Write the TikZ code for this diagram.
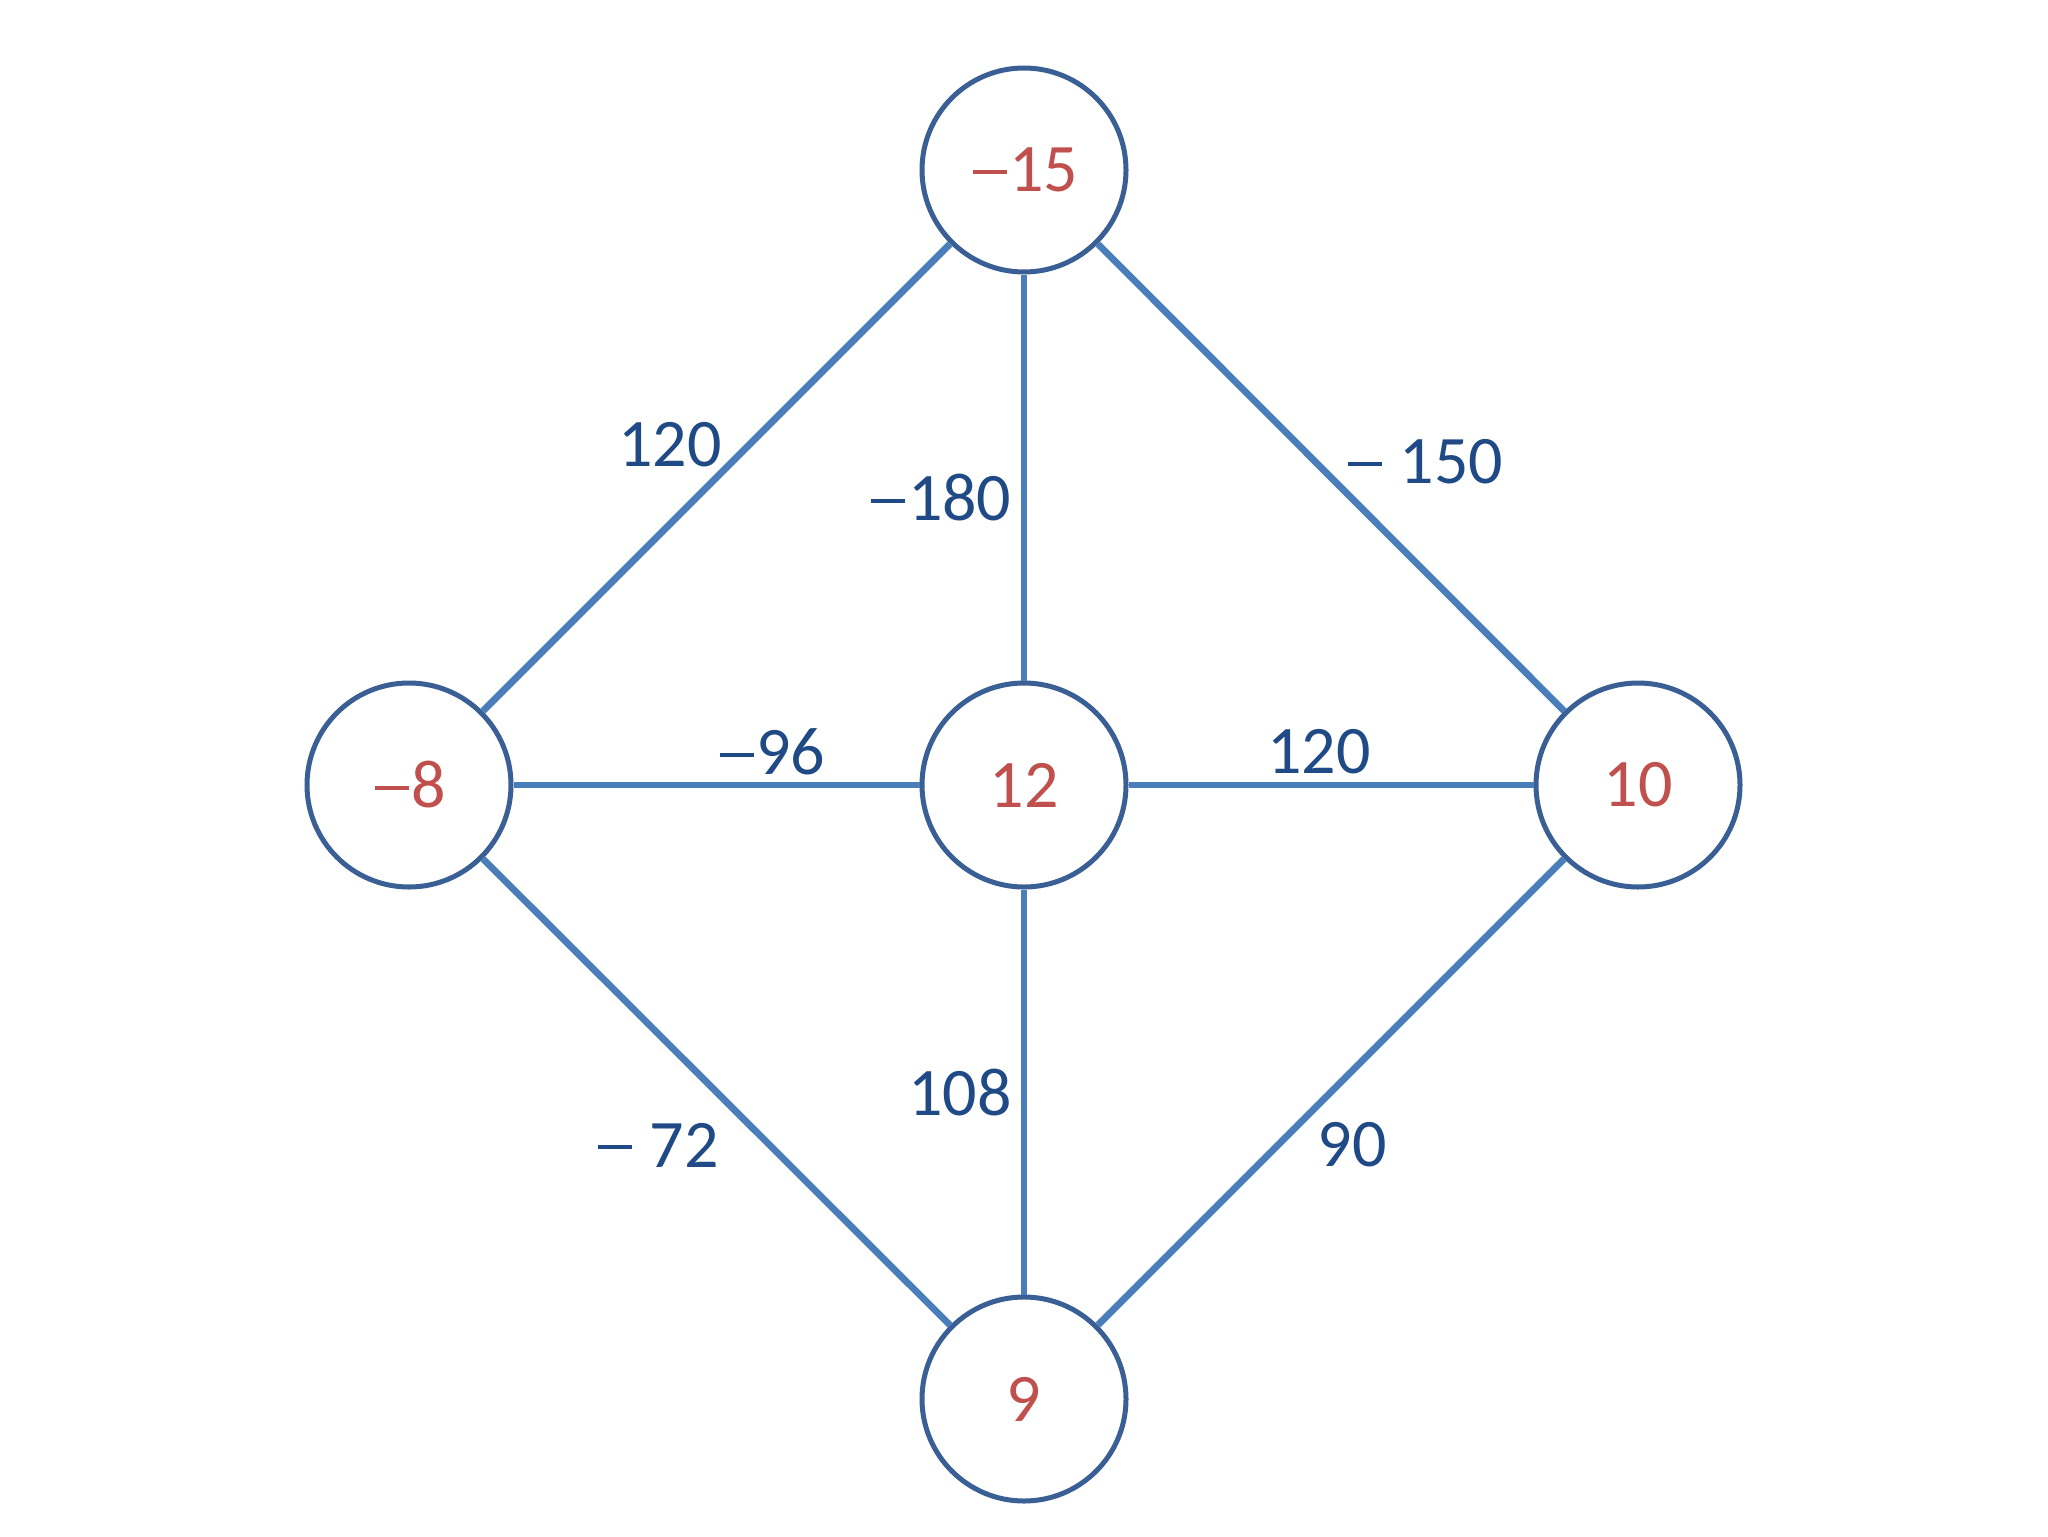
\documentclass[tikz,border=0pt]{standalone}
\usepackage{fontspec}
\setmainfont{Carlito}
\definecolor{ringc}{HTML}{3A5F94}
\definecolor{edgec}{HTML}{4A7EBB}
\definecolor{labc}{HTML}{1F4A85}
\definecolor{valc}{HTML}{C0504D}
\newcommand{\mn}{\kern0.04em\rule[0.265em]{0.5em}{0.06em}\kern0.04em}
\begin{document}
\begin{tikzpicture}[x=0.5pt,y=-0.5pt,
  vert/.style={circle,draw=ringc,line width=2.5pt,fill=white,minimum size=102pt,inner sep=0pt,
    text=valc,font=\fontsize{34}{40}\selectfont},
  conn/.style={draw=edgec,line width=3.4pt},
  wlab/.style={text=labc,font=\fontsize{34}{40}\selectfont,inner sep=0pt}]
\useasboundingbox[fill=white] (0,0) rectangle (2048,1536);
\node[vert] (t) at (1024,170) {\mn15};
\node[vert] (l) at (409,785) {\mn8};
\node[vert] (c) at (1024,785) {12};
\node[vert] (r) at (1638,785) {10};
\node[vert] (b) at (1024,1399) {9};
\draw[conn] (t) -- (l);
\draw[conn] (t) -- (c);
\draw[conn] (t) -- (r);
\draw[conn] (l) -- (c);
\draw[conn] (c) -- (r);
\draw[conn] (l) -- (b);
\draw[conn] (c) -- (b);
\draw[conn] (r) -- (b);
\node[wlab] (w1) at (670,445) {120};
\node[wlab] (w2) at (940,498) {\mn180};
\node[wlab] (w3) at (1424,462) {\mn\ 150};
\node[wlab] (w4) at (771,752) {\mn96};
\node[wlab] (w5) at (1319,752) {120};
\node[wlab] (w6) at (960,1093) {108};
\node[wlab] (w7) at (657,1145) {\mn\ 72};
\node[wlab] (w8) at (1352,1145) {90};
\end{tikzpicture}
\end{document}
